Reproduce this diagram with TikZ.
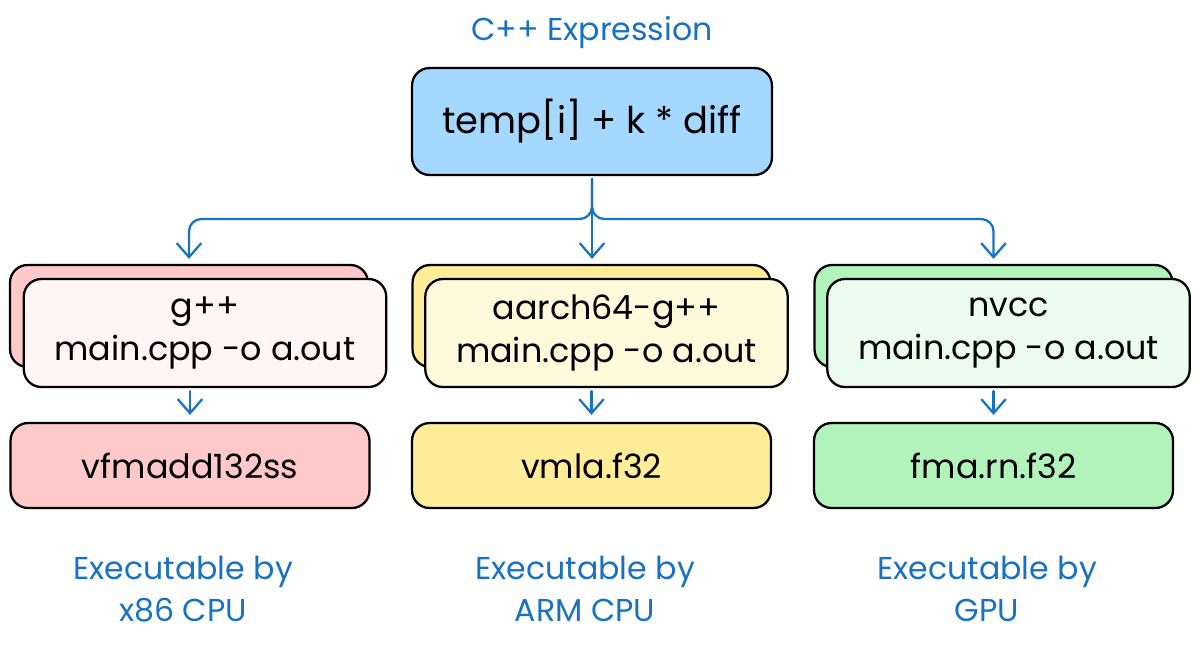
\documentclass[tikz,border=0pt]{standalone}
\usepackage{fontspec}
\setmainfont{Poppins}
\usetikzlibrary{arrows.meta,positioning}
\definecolor{inkblue}{HTML}{1971C2}
\definecolor{exprfill}{HTML}{A5D8FF}
\definecolor{redback}{HTML}{FFC9C9}
\definecolor{redfront}{HTML}{FFF5F5}
\definecolor{yelback}{HTML}{FFEC99}
\definecolor{yelfront}{HTML}{FFF9DB}
\definecolor{grnback}{HTML}{B2F2BB}
\definecolor{grnfront}{HTML}{EBFBEE}
\tikzset{
  box/.style={draw=black, line width=1.3pt, rounded corners=10pt, align=center,
    inner sep=0pt, font=\fontsize{19}{24.5}\selectfont},
  backbox/.style={box, minimum width=7.16cm, minimum height=2.04cm},
  frontbox/.style={box, minimum width=7.25cm, minimum height=2.16cm},
  outbox/.style={box, minimum width=7.18cm, minimum height=1.7cm},
  flow/.style={draw=inkblue, line width=1.3pt, line cap=round,
    -{Straight Barb[length=8pt,width=14pt,line width=1.3pt]}},
  note/.style={text=inkblue, align=center, font=\fontsize{18}{24}\selectfont},
}
\begin{document}
\begin{tikzpicture}[x=0.02cm,y=-0.02cm]
\useasboundingbox (0,0) rectangle (1200,647);

\node[note] (title) at (592,33) {C++ Expression};
\node[box, fill=exprfill, minimum width=7.2cm, minimum height=2.14cm,
  font=\fontsize{21}{24}\selectfont] (expr) at (592,121.5) {temp[i] + k * diff};

\node[backbox, fill=redback] (back1) at (189,316) {};
\node[frontbox, fill=redfront] (cc1) at (205,333) {g++\\main.cpp -o a.out};
\node[outbox, fill=redback] (out1) at (190,465.5) {vfmadd132ss};
\node[note] (cpu1) at (183,589) {Executable by\\x86 CPU};

\node[backbox, fill=yelback] (back2) at (591.5,316) {};
\node[frontbox, fill=yelfront] (cc2) at (606.5,333) {aarch64-g++\\main.cpp -o a.out};
\node[outbox, fill=yelback] (out2) at (591.5,465.5) {vmla.f32};
\node[note] (cpu2) at (585,589) {Executable by\\ARM CPU};

\node[backbox, fill=grnback] (back3) at (993.5,316) {};
\node[frontbox, fill=grnfront] (cc3) at (1008.5,333) {nvcc\\main.cpp -o a.out};
\node[outbox, fill=grnback] (out3) at (993.5,465.5) {fma.rn.f32};
\node[note] (gpu3) at (987,589) {Executable by\\GPU};

\coordinate (split) at (592,219);
\draw[flow, shorten <=0.06cm, shorten >=0.1cm] (expr.south) -- (expr.south |- back2.north);
\draw[flow, rounded corners=7pt, shorten <=0.06cm, shorten >=0.1cm] (expr.south) -- (split) -| (back1.north);
\draw[flow, rounded corners=7pt, shorten <=0.06cm, shorten >=0.1cm] (expr.south) -- (split) -| (back3.north);

\draw[flow, shorten <=0.06cm, shorten >=0.14cm] (cc1.south -| out1.north) -- (out1.north);
\draw[flow, shorten <=0.06cm, shorten >=0.14cm] (cc2.south -| out2.north) -- (out2.north);
\draw[flow, shorten <=0.06cm, shorten >=0.14cm] (cc3.south -| out3.north) -- (out3.north);
\end{tikzpicture}
\end{document}
